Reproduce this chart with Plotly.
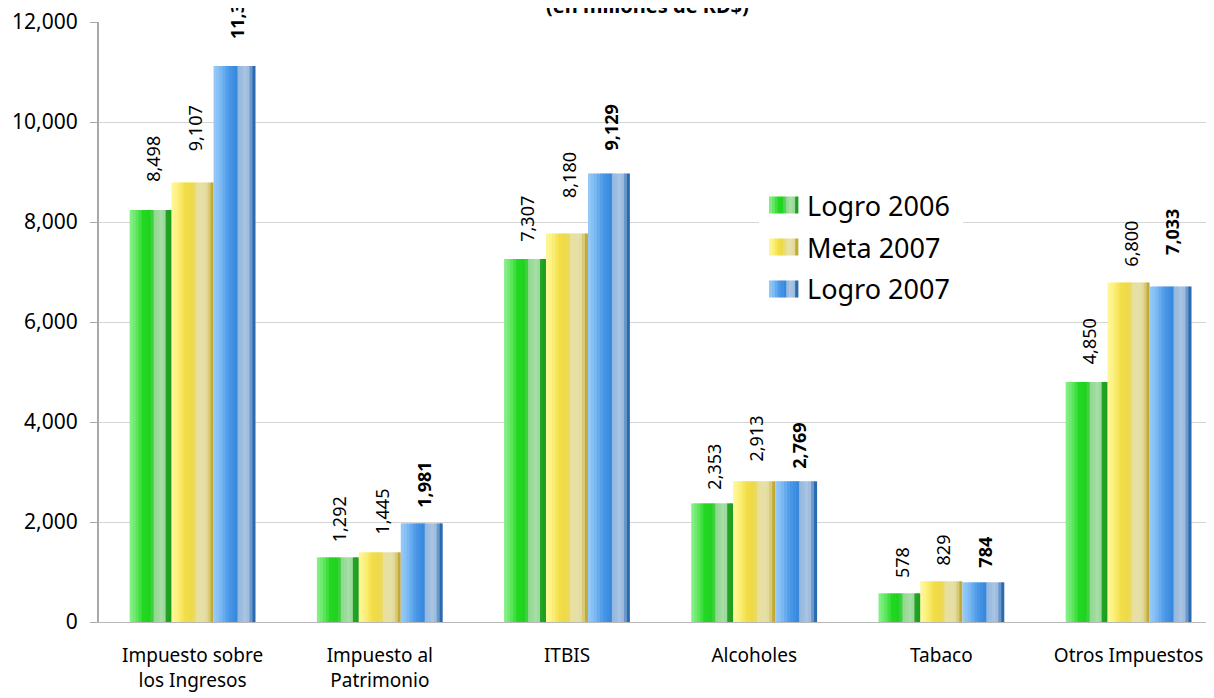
import plotly.graph_objects as go

# ---------------- data ----------------
categories = ["Impuesto sobre<br>los Ingresos", "Impuesto al<br>Patrimonio", "ITBIS",
              "Alcoholes", "Tabaco", "Otros Impuestos"]
series_names = ["Logro 2006", "Meta 2007", "Logro 2007"]
# bar heights as drawn in the picture
logro_2006 = [8240, 1293, 7260, 2373, 573, 4800]
meta_2007 = [8793, 1393, 7773, 2813, 813, 6793]
logro_2007 = [11120, 1973, 8973, 2813, 793, 6713]
# values printed in the data labels
lbl_logro_2006 = [8498, 1292, 7307, 2353, 578, 4850]
lbl_meta_2007 = [9107, 1445, 8180, 2913, 829, 6800]
lbl_logro_2007 = [11360, 1981, 9129, 2769, 784, 7033]
y_ticks = [0, 2000, 4000, 6000, 8000, 10000, 12000]
subtitle = "(en millones de RD$)"

bars = [logro_2006, meta_2007, logro_2007]
labels = [lbl_logro_2006, lbl_meta_2007, lbl_logro_2007]

# ---------------- style ----------------
FONT = "Noto Sans, DejaVu Sans, sans-serif"
W = 0.224          # bar width in category units
NSTRIPE = 14
profiles = [
    [(0.0, "#8cf08c"), (0.15, "#66e866"), (0.32, "#22d822"), (0.52, "#20d020"),
     (0.58, "#8ed88e"), (0.75, "#a6dea6"), (0.86, "#98d898"), (0.89, "#22a422"), (1.0, "#1e9c1e")],
    [(0.0, "#fff79a"), (0.15, "#fcf07c"), (0.32, "#f2de48"), (0.52, "#ecd84a"),
     (0.58, "#e8e09a"), (0.75, "#e6e0a8"), (0.88, "#e2d898"), (0.92, "#c6ae38"), (1.0, "#bea830")],
    [(0.0, "#98caf8"), (0.15, "#80bcf4"), (0.36, "#4a98e8"), (0.55, "#3888dc"),
     (0.6, "#94b8e0"), (0.75, "#a8c4e2"), (0.88, "#98b8dc"), (0.91, "#2e6eb4"), (1.0, "#2a68ac")],
]


def hex2rgb(h):
    h = h.lstrip("#")
    return tuple(int(h[i:i + 2], 16) for i in (0, 2, 4))


def sample(profile, t):
    for (p0, c0), (p1, c1) in zip(profile[:-1], profile[1:]):
        if p0 <= t <= p1:
            f = 0 if p1 == p0 else (t - p0) / (p1 - p0)
            a, b = hex2rgb(c0), hex2rgb(c1)
            return "rgb(%d,%d,%d)" % tuple(round(a[i] + (b[i] - a[i]) * f) for i in range(3))
    return profile[-1][1]


fig = go.Figure()
xs = list(range(len(categories)))
for s, vals in enumerate(bars):
    left = (s - 1) * W - W / 2
    sw = W / NSTRIPE
    for k in range(NSTRIPE):
        width = sw * 1.35 if k < NSTRIPE - 1 else sw
        fig.add_trace(go.Bar(
            x=xs, y=vals, offset=left + k * sw, width=width,
            marker=dict(color=sample(profiles[s], (k + 0.5) / NSTRIPE), line=dict(width=0)),
            showlegend=False, hoverinfo="skip", name=series_names[s]))

# data labels
for s, lv in enumerate(labels):
    for i, v in enumerate(lv):
        txt = f"{v:,}"
        if s == 2:
            txt = f"<b>{txt}</b>"
        fig.add_annotation(x=i + (s - 1) * W, y=v, xref="x", yref="y", text=txt,
                           textangle=-90, showarrow=False, xanchor="center", yanchor="bottom",
                           xshift=2, yshift=13, font=dict(family=FONT, size=18, color="#000000"))

# page body has an 8px margin: the figure starts at (8, 8) of the window
OFF = 8
WIN_W, WIN_H = 1214, 698
# plot area in window pixels
L, R, T, B = 99, 1214, 22, 622
def px(x):
    return (x - L) / (R - L)
def py(y):
    return (B - y) / (B - T)

fig.add_annotation(x=px(647), y=py(21), xref="paper", yref="paper", text=f"<b>{subtitle}</b>",
                   showarrow=False, xanchor="center", yanchor="bottom",
                   font=dict(family=FONT, size=20, color="#000000"))

# manual legend
shapes = [dict(type="rect", xref="paper", yref="paper", x0=px(759), x1=px(963), y0=py(306), y1=py(182),
               fillcolor="white", line=dict(width=0), layer="above")]
row_y = [205, 247, 289]
for s, name in enumerate(series_names):
    cy = row_y[s]
    n = 10
    x0, x1 = 769, 798
    for k in range(n):
        a = x0 + (x1 - x0) * k / n
        b = x0 + (x1 - x0) * (k + 1) / n
        shapes.append(dict(type="rect", xref="paper", yref="paper", x0=px(a), x1=px(b + 0.4),
                           y0=py(cy + 8.5), y1=py(cy - 8.5),
                           fillcolor=sample(profiles[s], (k + 0.5) / n), line=dict(width=0), layer="above"))
    fig.add_annotation(x=px(805), y=py(cy), xref="paper", yref="paper", text=name, showarrow=False,
                       xanchor="left", yanchor="middle", font=dict(family=FONT, size=27, color="#000000"))

fig.update_layout(
    width=WIN_W - OFF, height=WIN_H - OFF,
    margin=dict(l=L - OFF, r=WIN_W - R, t=T - OFF, b=WIN_H - B, autoexpand=False),
    paper_bgcolor="white", plot_bgcolor="white",
    barmode="overlay", showlegend=False,
    shapes=shapes,
    font=dict(family=FONT, color="#000000"),
    xaxis=dict(range=[-0.5, -0.5 + (R - L) / 187.2], tickmode="array", tickvals=xs, ticktext=categories,
               showline=True, linecolor="#b8b8b8", linewidth=1, ticks="", showgrid=False, zeroline=False,
               automargin=False,
               tickfont=dict(family=FONT, size=19, color="#000000"), ticklabelstandoff=16),
    yaxis=dict(range=[0, 12001], tickmode="array", tickvals=y_ticks, tickformat=",",
               showgrid=True, gridcolor="#d4d4d4", gridwidth=1, zeroline=False,
               showline=True, linecolor="#a8a8a8", linewidth=2, automargin=False,
               ticks="outside", ticklen=7, tickcolor="#a8a8a8", tickwidth=1,
               tickfont=dict(family=FONT, size=21, color="#000000"), ticklabelstandoff=8,
               ticklabeloverflow="allow"),
)

fig.write_html("out.html")
